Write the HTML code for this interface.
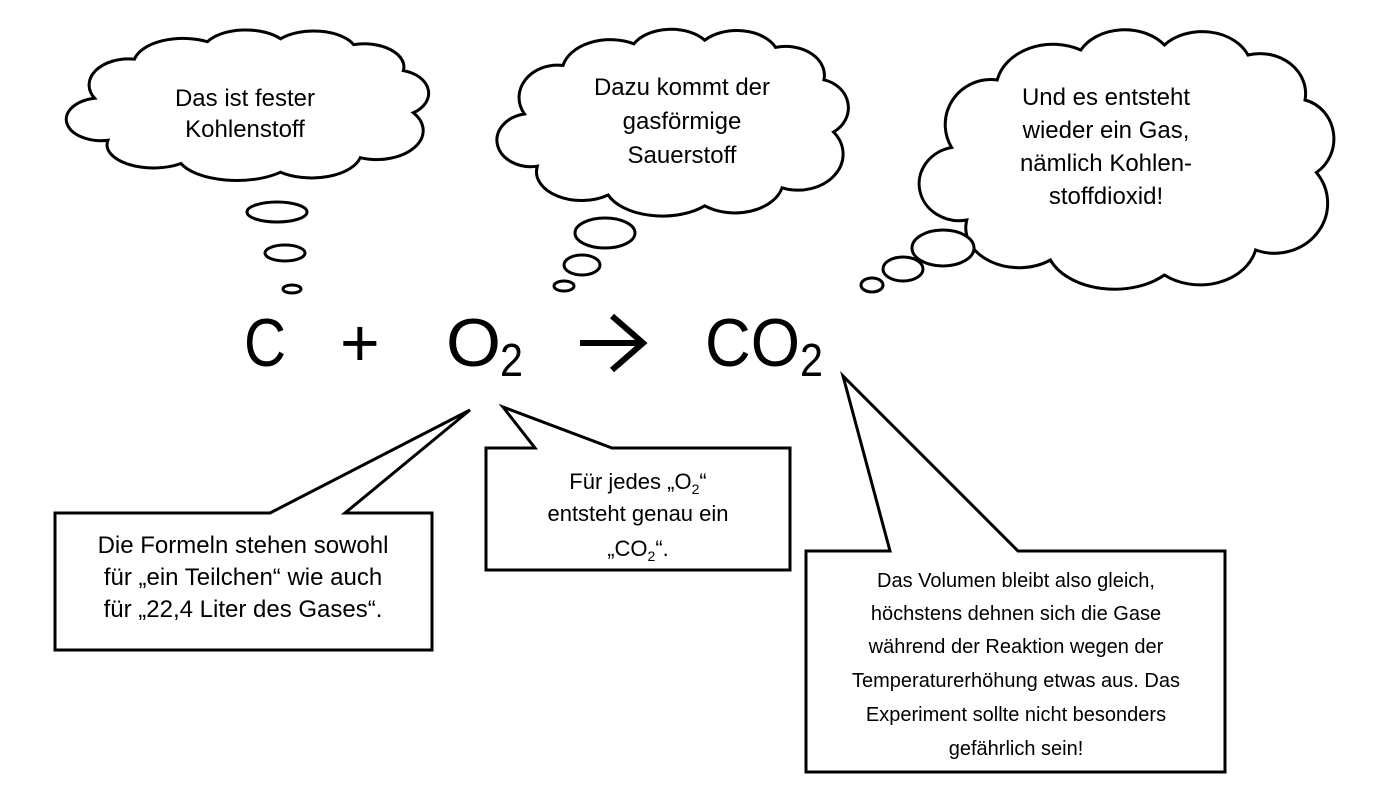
<!DOCTYPE html>
<html><head><meta charset="utf-8"><style>
html,body{margin:0;padding:0;background:#fff;}
svg{display:block}
text{font-family:"Liberation Sans",sans-serif;fill:#000}
.t{text-anchor:middle}
.c{font-size:24px}
.l{font-size:24px}
.m{font-size:22px}
.r{font-size:20px}
</style></head><body>
<svg width="1380" height="812" viewBox="0 0 1380 812" xmlns="http://www.w3.org/2000/svg">
<defs>
<path id="cl" vector-effect="non-scaling-stroke" d="M2,45 A12,18 0 0 1 14,18 A15,18 0 0 1 36,6 A13,15 0 0 1 58,4 A13,15 0 0 1 80,8 A12,16 0 0 1 95,26 A10,16 0 0 1 98,55 A14,20 0 0 1 82,86 A15,18 0 0 1 58,96 A18,18 0 0 1 28,90 A14,16 0 0 1 6,74 A10,14 0 0 1 2,45 Z"/>
</defs>
<g fill="#fff" stroke="#000" stroke-width="3">
<use href="#cl" transform="translate(88,33) scale(3.32,1.45)"/>
<use href="#cl" transform="translate(518,33) scale(3.22,1.8)"/>
<use href="#cl" transform="translate(944,35) scale(3.8,2.5)"/>
<ellipse cx="277" cy="212" rx="30" ry="10"/>
<ellipse cx="285" cy="253" rx="20" ry="8"/>
<ellipse cx="292" cy="289" rx="9" ry="4"/>
<ellipse cx="605" cy="233" rx="30" ry="15"/>
<ellipse cx="582" cy="265" rx="18" ry="10"/>
<ellipse cx="564" cy="286" rx="10" ry="5"/>
<ellipse cx="943" cy="248" rx="31" ry="18"/>
<ellipse cx="903" cy="269" rx="20" ry="12"/>
<ellipse cx="872" cy="285" rx="11" ry="7"/>
<path d="M55,513 H270 L470,410 L345,513 H432 V650 H55 Z"/>
<path d="M486,448 H535 L503,407 L612,448 H790 V570 H486 Z"/>
<path d="M806,551 H890 L843,376 L1018,551 H1225 V772 H806 Z"/>
</g>
<text class="t c" x="245" y="106">Das ist fester</text>
<text class="t c" x="245" y="137">Kohlenstoff</text>
<text class="t c" x="682" y="95">Dazu kommt der</text>
<text class="t c" x="682" y="129">gasförmige</text>
<text class="t c" x="682" y="163">Sauerstoff</text>
<text class="t c" x="1106" y="105">Und es entsteht</text>
<text class="t c" x="1106" y="138">wieder ein Gas,</text>
<text class="t c" x="1106" y="171">nämlich Kohlen-</text>
<text class="t c" x="1106" y="204">stoffdioxid!</text>
<text class="t l" x="243" y="553">Die Formeln stehen sowohl</text>
<text class="t l" x="243" y="585">für „ein Teilchen“ wie auch</text>
<text class="t l" x="243" y="617">für „22,4 Liter des Gases“.</text>
<text class="t m" x="638" y="489">Für jedes „O<tspan font-size="14" dy="5">2</tspan><tspan dy="-5">“</tspan></text>
<text class="t m" x="638" y="521">entsteht genau ein</text>
<text class="t m" x="638" y="556">„CO<tspan font-size="14" dy="5">2</tspan><tspan dy="-5">“.</tspan></text>
<text class="t r" x="1016" y="587">Das Volumen bleibt also gleich,</text>
<text class="t r" x="1016" y="620">höchstens dehnen sich die Gase</text>
<text class="t r" x="1016" y="653">während der Reaktion wegen der</text>
<text class="t r" x="1016" y="687">Temperaturerhöhung etwas aus. Das</text>
<text class="t r" x="1016" y="721">Experiment sollte nicht besonders</text>
<text class="t r" x="1016" y="755">gefährlich sein!</text>
<g font-size="68">
<text x="244" y="366" textLength="42" lengthAdjust="spacingAndGlyphs">C</text>
<text x="340" y="366">+</text>
<text x="446" y="366" textLength="55" lengthAdjust="spacingAndGlyphs">O</text>
<text x="500" y="376" font-size="46" textLength="23" lengthAdjust="spacingAndGlyphs">2</text>
<text x="705" y="366" textLength="95" lengthAdjust="spacingAndGlyphs">CO</text>
<text x="800" y="376" font-size="46" textLength="23" lengthAdjust="spacingAndGlyphs">2</text>
</g>
<g stroke="#000" stroke-width="6" fill="none">
<line x1="580" y1="343" x2="640" y2="343"/>
<polyline points="612,316 643,343 612,370"/>
</g>
</svg>
</body></html>
